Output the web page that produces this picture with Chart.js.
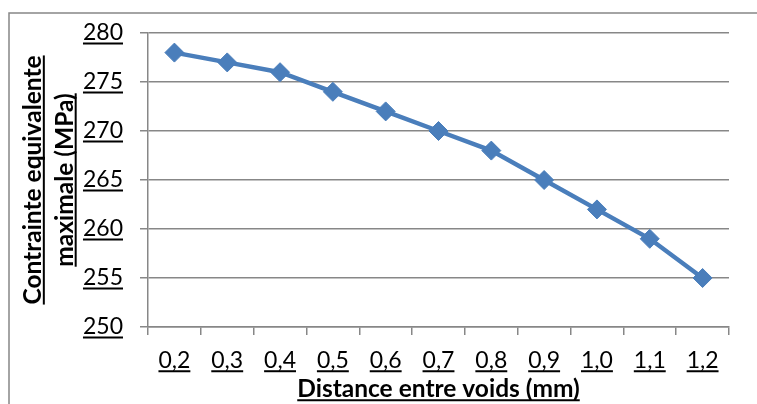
<!DOCTYPE html>
<html>
<head>
<meta charset="utf-8">
<script src="https://cdn.jsdelivr.net/npm/chart.js@4/dist/chart.umd.min.js"></script>
<style>
  html, body { margin: 0; padding: 0; background: #fff; }
  #wrap { width: 757px; height: 404px; }
</style>
</head>
<body>
<div id="wrap"><canvas id="chart"></canvas></div>
<script>
// données
const distances = ['0,2', '0,3', '0,4', '0,5', '0,6', '0,7', '0,8', '0,9', '1,0', '1,1', '1,2'];
const contrainte = [278, 277, 276, 274, 272, 270, 268, 265, 262, 259, 255];
const yTitle = ['Contrainte equivalente', 'maximale (MPa)'];
const xTitle = 'Distance entre voids (mm)';

const gris = '#878787';
const bleu = '#4A7EBB';
const tickFont = { family: 'Lato', size: 23 };
const xTitleFont = { family: 'Lato', size: 24.5, weight: 'bold', lineHeight: 1.2 };
const yTitleFont = { family: 'Lato', size: 24.5, weight: 'bold', lineHeight: 1.3 };

// cadre du graphique (haut et gauche seulement, l'image est rognée)
const cadre = {
    id: 'cadre',
    beforeDraw(chart) {
        const ctx = chart.ctx;
        ctx.save();
        ctx.strokeStyle = gris;
        ctx.lineWidth = 1.5;
        ctx.beginPath();
        ctx.moveTo(9, 404);
        ctx.lineTo(9, 13);
        ctx.lineTo(757, 13);
        ctx.stroke();
        ctx.restore();
    }
};

// soulignement des textes (comme dans Excel)
const souligne = {
    id: 'souligne',
    afterDraw(chart) {
        const ctx = chart.ctx;
        const xs = chart.scales.x, ys = chart.scales.y;
        const tf = Chart.helpers.toFont(tickFont);
        ctx.save();
        ctx.strokeStyle = '#000';
        ctx.lineWidth = 2;
        ctx.font = tf.string;
        ctx.textBaseline = 'middle';
        const desc = ctx.measureText('x').actualBoundingBoxDescent;

        // ticks y
        const yRight = ys.right - ys.options.grid.tickLength - ys.options.ticks.padding;
        ys.ticks.forEach((t, i) => {
            const w = ctx.measureText(String(t.label)).width;
            const y = ys.getPixelForTick(i) + desc + 3;
            ctx.beginPath();
            ctx.moveTo(yRight - w, y);
            ctx.lineTo(yRight, y);
            ctx.stroke();
        });

        // ticks x
        const xTop = xs.top + xs.options.grid.tickLength + xs.options.ticks.padding;
        xs.ticks.forEach((t, i) => {
            const w = ctx.measureText(String(t.label)).width;
            const x = xs.getPixelForTick(i);
            const y = xTop + tf.lineHeight / 2 + desc + 3;
            ctx.beginPath();
            ctx.moveTo(x - w / 2, y);
            ctx.lineTo(x + w / 2, y);
            ctx.stroke();
        });

        // titre x
        const xf = Chart.helpers.toFont(xTitleFont);
        ctx.font = xf.string;
        let d = ctx.measureText('x').actualBoundingBoxDescent;
        const tyX = xs.bottom - xs.options.title.padding.bottom - xf.lineHeight / 2;
        const wX = ctx.measureText(xTitle).width;
        const cX = (chart.chartArea.left + chart.chartArea.right) / 2;
        ctx.beginPath();
        ctx.moveTo(cX - wX / 2, tyX + d + 3);
        ctx.lineTo(cX + wX / 2, tyX + d + 3);
        ctx.stroke();

        // titre y (deux lignes)
        const yf = Chart.helpers.toFont(yTitleFont);
        ctx.font = yf.string;
        d = ctx.measureText('x').actualBoundingBoxDescent;
        const cY = (ys.top + ys.bottom) / 2;
        yTitle.forEach((line, i) => {
            const w = ctx.measureText(line).width;
            const x = ys.left + ys.options.title.padding.top + yf.lineHeight / 2 + i * yf.lineHeight + d + 3;
            ctx.beginPath();
            ctx.moveTo(x, cY - w / 2);
            ctx.lineTo(x, cY + w / 2);
            ctx.stroke();
        });
        ctx.restore();
    }
};

const ctx = document.getElementById('chart').getContext('2d');
const chart = new Chart(ctx, {
    type: 'line',
    data: {
        labels: distances,
        datasets: [{
            data: contrainte,
            borderColor: bleu,
            backgroundColor: bleu,
            borderWidth: 4.5,
            pointStyle: 'rectRot',
            pointRadius: 9.5,
            pointBorderWidth: 1,
            tension: 0
        }]
    },
    options: {
        responsive: true,
        maintainAspectRatio: false,
        animation: false,
        layout: { padding: { left: 0, top: 33, right: 28, bottom: 0 } },
        plugins: {
            legend: { display: false },
            tooltip: { enabled: false }
        },
        scales: {
            x: {
                offset: true,
                grid: { offset: true, drawOnChartArea: false, color: gris, lineWidth: 1.5, tickLength: 8 },
                border: { color: gris, width: 1.5 },
                ticks: { color: '#000', font: tickFont, padding: 12, maxRotation: 0 },
                title: { display: true, text: xTitle, color: '#000', font: xTitleFont, padding: { top: 0, bottom: 0 } },
                afterFit(scale) { scale.height = 77; }
            },
            y: {
                min: 250,
                max: 280,
                ticks: { stepSize: 5, color: '#000', font: tickFont, padding: 17 },
                grid: { color: gris, lineWidth: 1.5, tickLength: 8 },
                border: { color: gris, width: 1.5 },
                title: { display: true, text: yTitle, color: '#000', font: yTitleFont, padding: { top: 17, bottom: 0 } },
                afterFit(scale) { scale.width = 148; }
            }
        }
    },
    plugins: [cadre, souligne]
});
</script>
</body>
</html>
